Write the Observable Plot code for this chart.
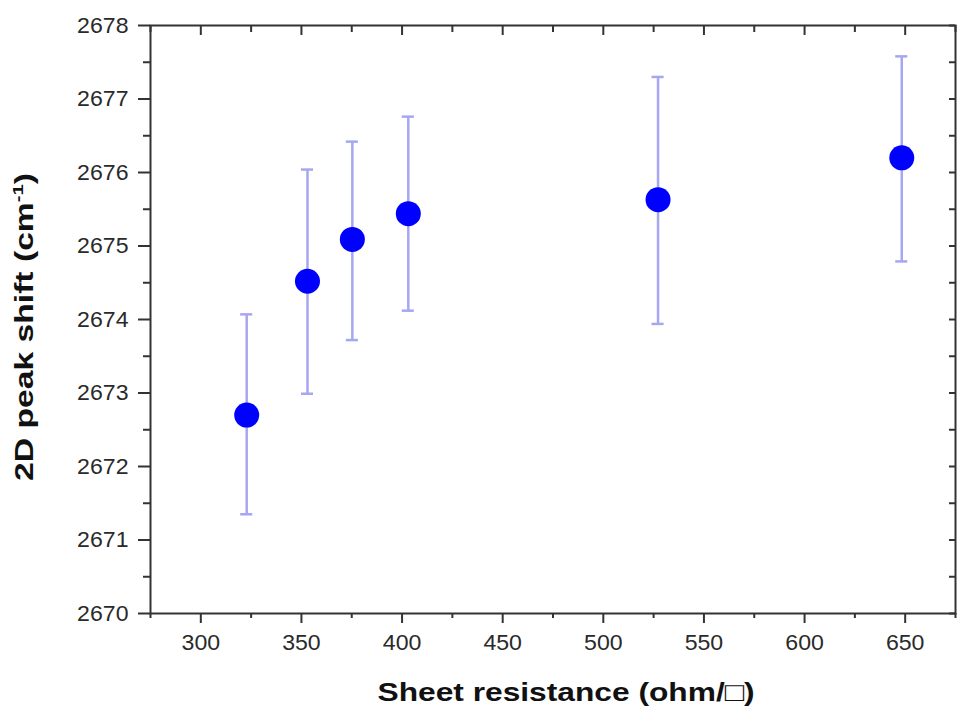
<!DOCTYPE html>
<html><head><meta charset="utf-8">
<script src="https://cdn.jsdelivr.net/npm/d3@7"></script>
<script src="https://cdn.jsdelivr.net/npm/@observablehq/plot@0.6"></script>
<style>body{margin:0;background:#fff} #chart svg{display:block}</style>
</head><body><div id="chart"></div>
<script>
// Data
const resistance = [322.8, 353.0, 375.3, 403.1, 527.2, 648.3];
const peakShift  = [2672.70, 2674.52, 2675.09, 2675.44, 2675.63, 2676.20];
const errUpper   = [2674.07, 2676.04, 2676.42, 2676.76, 2677.30, 2677.58];
const errLower   = [2671.35, 2672.99, 2673.72, 2674.12, 2673.94, 2674.79];
const xTicks = [300, 350, 400, 450, 500, 550, 600, 650];
const xMinorTicks = [275, 325, 375, 425, 475, 525, 575, 625, 675];
const yTicks = [2670, 2671, 2672, 2673, 2674, 2675, 2676, 2677, 2678];
const yMinorTicks = [2670.5, 2671.5, 2672.5, 2673.5, 2674.5, 2675.5, 2676.5, 2677.5];
const xLabel = "Sheet resistance (ohm/\u25A1)";
const yLabelMain = "2D peak shift (cm";
const yLabelSup = "-1";

const data = resistance.map((x, i) => ({x, y: peakShift[i], hi: errUpper[i], lo: errLower[i]}));

const W = 958, H = 708, mL = 150, mR = 3, mT = 25, mB = 95;
const fw = W - mL - mR, fh = H - mT - mB;
const axisColor = "#333";
const errColor = "#a6a6f2";
const capHalf = 3; // half cap width in x units

const chart = Plot.plot({
  width: W, height: H,
  marginLeft: mL, marginRight: mR, marginTop: mT, marginBottom: mB,
  style: {fontFamily: "'Liberation Sans', Arial, sans-serif", fontSize: "22px", color: axisColor, background: "#fff"},
  x: {domain: [275, 675]},
  y: {domain: [2670, 2678]},
  marks: [
    // error bars
    Plot.ruleX(data, {x: "x", y1: "lo", y2: "hi", stroke: errColor, strokeWidth: 2.5}),
    Plot.ruleY(data, {y: "hi", x1: d => d.x - capHalf, x2: d => d.x + capHalf, stroke: errColor, strokeWidth: 2.5}),
    Plot.ruleY(data, {y: "lo", x1: d => d.x - capHalf, x2: d => d.x + capHalf, stroke: errColor, strokeWidth: 2.5}),
    // points
    Plot.dot(data, {x: "x", y: "y", r: 12.5, fill: "#0000ff", stroke: "none"}),
    // axes
    Plot.axisX(xTicks, {anchor: "bottom", tickSize: 10, tickPadding: 11, strokeWidth: 2, label: null, tickFormat: d => String(d), fill: "#2a2a2a"}),
    Plot.axisX(xMinorTicks, {anchor: "bottom", tickSize: 5, strokeWidth: 2, label: null, tickFormat: () => ""}),
    Plot.axisY(yTicks, {anchor: "left", tickSize: 12, tickPadding: 10, strokeWidth: 2, label: null, tickFormat: d => String(d), fill: "#2a2a2a"}),
    Plot.axisY(yMinorTicks, {anchor: "left", tickSize: 7, strokeWidth: 2, label: null, tickFormat: () => ""}),
    // inward ticks on top and right
    Plot.tickX(xTicks, {x: d => d, insetBottom: fh - 10, stroke: axisColor, strokeWidth: 2}),
    Plot.tickX(xMinorTicks, {x: d => d, insetBottom: fh - 7, stroke: axisColor, strokeWidth: 2}),
    Plot.tickY(yTicks.concat(yMinorTicks), {y: d => d, insetLeft: fw - 6, stroke: axisColor, strokeWidth: 2}),
    Plot.frame({stroke: axisColor, strokeWidth: 2})
  ]
});

document.getElementById("chart").appendChild(chart);
const svg = d3.select(chart);

// axis titles
svg.append("text")
  .attr("class", "title-x")
  .attr("x", 566).attr("y", 701)
  .attr("text-anchor", "middle")
  .attr("font-family", "'Liberation Sans', Arial, sans-serif")
  .attr("font-weight", "bold").attr("font-size", 26).attr("fill", "#111")
  .text(xLabel);

const yt = svg.append("text")
  .attr("class", "title-y")
  .attr("transform", `translate(33,327) rotate(-90)`)
  .attr("text-anchor", "middle")
  .attr("font-family", "'Liberation Sans', Arial, sans-serif")
  .attr("font-weight", "bold").attr("font-size", 25).attr("fill", "#111");
yt.append("tspan").text(yLabelMain);
yt.append("tspan").attr("dy", -10).attr("font-size", 15).text(yLabelSup);
yt.append("tspan").attr("dy", 10).text(")");

// widen glyphs like the reference's wide lettering
function stretchTo(sel, fn) {
  sel.each(function () {
    if (!this.textContent) return;
    const l = this.getComputedTextLength();
    if (l > 0) {
      this.setAttribute("textLength", fn(l).toFixed(1));
      this.setAttribute("lengthAdjust", "spacingAndGlyphs");
    }
  });
}
stretchTo(svg.selectAll("g[aria-label$='tick label'] text"), l => l * 1.05);
stretchTo(svg.select("text.title-x"), () => 377);
stretchTo(svg.select("text.title-y"), () => 308);
</script>
</body></html>
